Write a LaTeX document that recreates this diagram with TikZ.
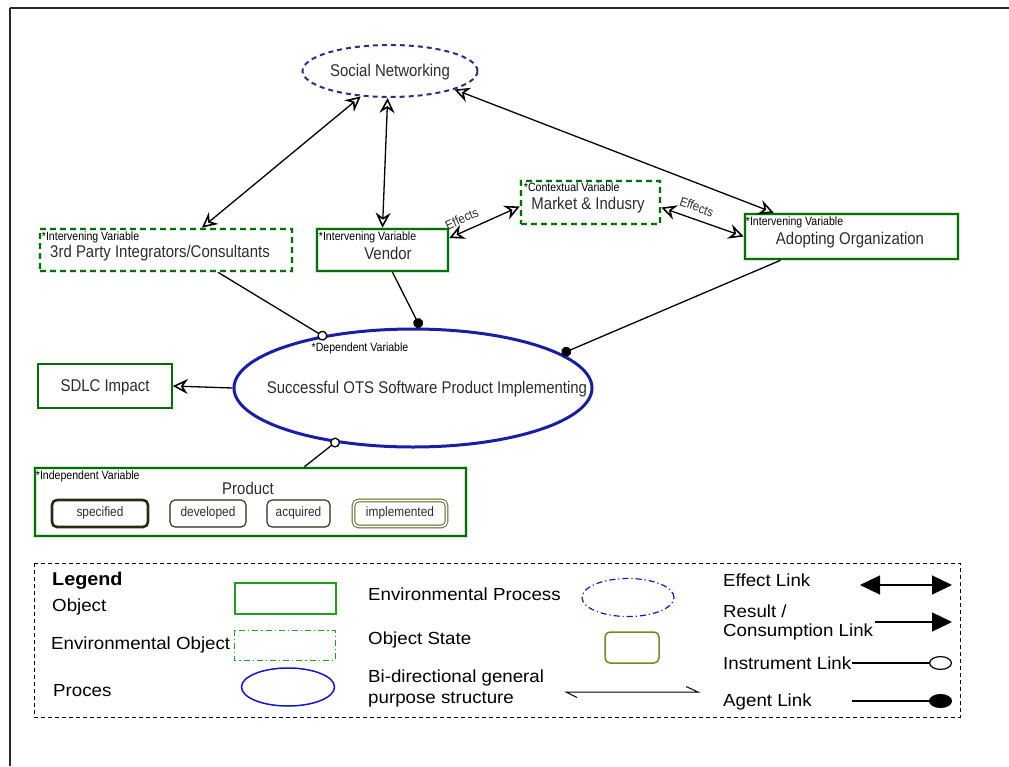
\documentclass[tikz,border=0pt]{standalone}
\usepackage{fontspec}
\setmainfont{Liberation Sans}
\newfontfamily\dfont[FakeStretch=0.88]{Liberation Sans}
\newfontfamily\lfont[FakeStretch=1.07]{Liberation Sans}
\usetikzlibrary{shapes.geometric,arrows.meta,calc}
\definecolor{objgreen}{RGB}{12,105,12}
\definecolor{glowgreen}{RGB}{205,238,205}
\definecolor{procblue}{RGB}{25,30,165}
\definecolor{navyd}{RGB}{45,45,125}
\definecolor{legblue}{RGB}{20,20,200}
\definecolor{leggreen}{RGB}{30,160,30}
\definecolor{oliveg}{RGB}{110,140,35}
\definecolor{statedark}{RGB}{35,45,20}
\definecolor{txtgray}{RGB}{45,45,45}
\definecolor{framegray}{RGB}{40,40,40}
\tikzset{
  x=1pt, y=-1pt,
  objbox/.style={rectangle, draw=objgreen, line width=2.6pt, inner sep=0,
    preaction={draw=glowgreen, line width=4.6pt}},
  envbox/.style={objbox, dash pattern=on 6pt off 4pt},
  dtext/.style={font=\dfont\fontsize{17}{20}\selectfont, text=txtgray, inner sep=0},
  slab/.style={font=\dfont\fontsize{12}{13}\selectfont, text=black, inner sep=0, anchor=north west},
  efflab/.style={font=\dfont\fontsize{13}{14}\selectfont, text=txtgray, inner sep=1pt},
  statebox/.style={rectangle, rounded corners=5pt, draw=statedark, line width=1.1pt,
    minimum height=27pt, inner sep=0, font=\dfont\fontsize{13.5}{15}\selectfont, text=txtgray},
  link/.style={draw=black, line width=1.3pt},
  oa/.tip={Stealth[open, length=15pt, width=15pt, inset=5pt, fill=white, line width=1.6pt]},
  instr/.tip={Circle[open, length=10pt, fill=white]},
  agent/.tip={Circle[length=10pt]},
  ltext/.style={font=\lfont\fontsize{17.5}{20}\selectfont, text=black, inner sep=0, anchor=west},
  bigtri/.tip={Triangle[length=20pt, width=19pt]}
}
\begin{document}
\begin{tikzpicture}
\useasboundingbox (0,0) rectangle (1009,766);
% frame
\draw[framegray, line width=1.2pt] (10,766) -- (10,8);
\draw[framegray, line width=2.2pt] (10,8) -- (1009,8);

% nodes
\node[ellipse, draw=navyd, line width=2pt, dash pattern=on 5pt off 4pt,
      minimum width=175pt, minimum height=52pt, inner sep=0] (sn) at (390,71) {};
\node[dtext] (snt) at (390,72) {Social Networking};

\node[envbox, minimum width=252pt, minimum height=42pt] (tp) at (166,250) {};
\node[slab] (tpl) at ([shift={(3pt,-4pt)}]tp.north west) {*Intervening Variable};
\node[dtext] (tpt) at (160,253) {3rd Party Integrators/Consultants};

\node[objbox, minimum width=131pt, minimum height=42pt] (vd) at (382.5,250) {};
\node[slab] (vdl) at ([shift={(3pt,-4pt)}]vd.north west) {*Intervening Variable};
\node[dtext] (vdt) at (388,253) {Vendor};

\node[envbox, minimum width=139pt, minimum height=43pt] (mk) at (590.5,202.5) {};
\node[slab] (mkl) at ([shift={(4pt,-3pt)}]mk.north west) {*Contextual Variable};
\node[dtext] (mkt) at (588,205) {Market \& Indusry};

\node[objbox, minimum width=213pt, minimum height=45pt] (ao) at (851.5,236.5) {};
\node[slab] (aol) at ([shift={(2pt,-4pt)}]ao.north west) {*Intervening Variable};
\node[dtext] (aot) at (850,240) {Adopting Organization};

\node[ellipse, draw=procblue, line width=3pt, minimum width=358pt, minimum height=118pt,
      inner sep=0] (mn) at (413,388) {};
\node[slab, anchor=center] (mnl) at (360,348) {*Dependent Variable};
\node[dtext] (mnt) at (427,389) {Successful OTS Software Product Implementing};

\node[rectangle, draw=objgreen, line width=1.6pt, minimum width=134pt, minimum height=44pt,
      inner sep=0] (sd) at (105,386) {};
\node[dtext] (sdt) at (105,387) {SDLC Impact};

\node[objbox, minimum width=431pt, minimum height=68pt] (pr) at (250.5,502) {};
\node[slab] (prl) at ([shift={(2pt,-4pt)}]pr.north west) {*Independent Variable};
\node[dtext] (prt) at (248,488) {Product};
\node[statebox, line width=2.6pt, minimum width=96pt] (st1) at (100,513.5) {specified};
\node[statebox, minimum width=76pt] (st2) at (208,513.5) {developed};
\node[statebox, minimum width=63pt] (st3) at (298.5,513.5) {acquired};
\node[statebox, draw=oliveg!70!black, double=white, double distance=1.8pt, line width=0.9pt,
      minimum width=93pt, minimum height=26pt] (st4) at (400,513.5) {implemented};

% connectors
\draw[link, oa-oa] ([xshift=36pt]tp.north) -- (sn.221);
\draw[link, oa-oa] (vd.north) -- (sn.265);
\draw[link, oa-oa] ([xshift=30pt]ao.north west) -- (sn.-16);
\draw[link, oa-oa] ([yshift=12pt]vd.east) -- node[efflab, sloped, above=6pt, pos=0.25] (ef1) {Effects} ([yshift=-4pt]mk.west);
\draw[link, oa-oa] ([yshift=-5pt]mk.east) -- node[efflab, sloped, above=6pt, pos=0.38] (ef2) {Effects} (ao.west);
\draw[link, -instr, shorten >=-5pt] ([xshift=52pt]tp.south) -- (mn.150);
\draw[link, -agent] ([xshift=10pt]vd.south) -- (mn.83);
\draw[link, -agent] ([xshift=-71pt]ao.south) -- (mn.13);
\draw[link, -instr, shorten >=-5pt] ([xshift=54pt]pr.north) -- (mn.215);
\draw[link, -oa] (mn.west) -- (sd.east);

% legend
\draw[black, line width=1pt, dash pattern=on 4pt off 3pt] (34,563) rectangle (960,717);
\node[ltext, font=\lfont\bfseries\fontsize{18.5}{20}\selectfont] (lg0) at (52,581) {Legend};
\node[ltext] (lg1) at (52,607) {Object};
\node[ltext] (lg2) at (51,645) {Environmental Object};
\node[ltext] (lg3) at (53,691) {Proces};
\node[ltext] (lg4) at (368,594) {Environmental Process};
\node[ltext] (lg5) at (368,640) {Object State};
\node[ltext] (lg6) at (368,678) {Bi-directional general};
\node[ltext] (lg7) at (368,700) {purpose structure};
\node[ltext] (lg8) at (723,580) {Effect Link};
\node[ltext] (lg9) at (723,611) {Result /};
\node[ltext] (lg10) at (723,632) {Consumption Link};
\node[ltext] (lg11) at (723,663) {Instrument Link};
\node[ltext] (lg12) at (723,702) {Agent Link};

\draw[leggreen, line width=1.5pt] (235,583) rectangle (336,614);
\draw[leggreen, line width=1pt, dash pattern=on 6pt off 3pt on 1.2pt off 3pt] (234,630) rectangle (335,660);
\draw[legblue, line width=1.5pt] (288,687) ellipse [x radius=46.5pt, y radius=19pt];
\draw[legblue, line width=1.2pt, dash pattern=on 6pt off 3pt on 1.2pt off 3pt] (628,597.5) ellipse [x radius=46pt, y radius=19pt];
\draw[oliveg, line width=1.5pt, rounded corners=5pt] (605,632) rectangle (659,663);
\draw[black, line width=1pt] (577,697.5) -- (566,692) -- (698,692) -- (686,686.5);
\draw[black, line width=1.2pt, bigtri-bigtri] (860,585) -- (952,585);
\draw[black, line width=1.2pt, -bigtri] (875,622) -- (952,622);
\draw[black, line width=1.2pt, -{Ellipse[open, length=23pt, width=14pt]}] (852,663) -- (952,663);
\draw[black, line width=1.2pt, -{Ellipse[length=23pt, width=14pt]}] (852,701) -- (952,701);
\end{tikzpicture}
\end{document}
